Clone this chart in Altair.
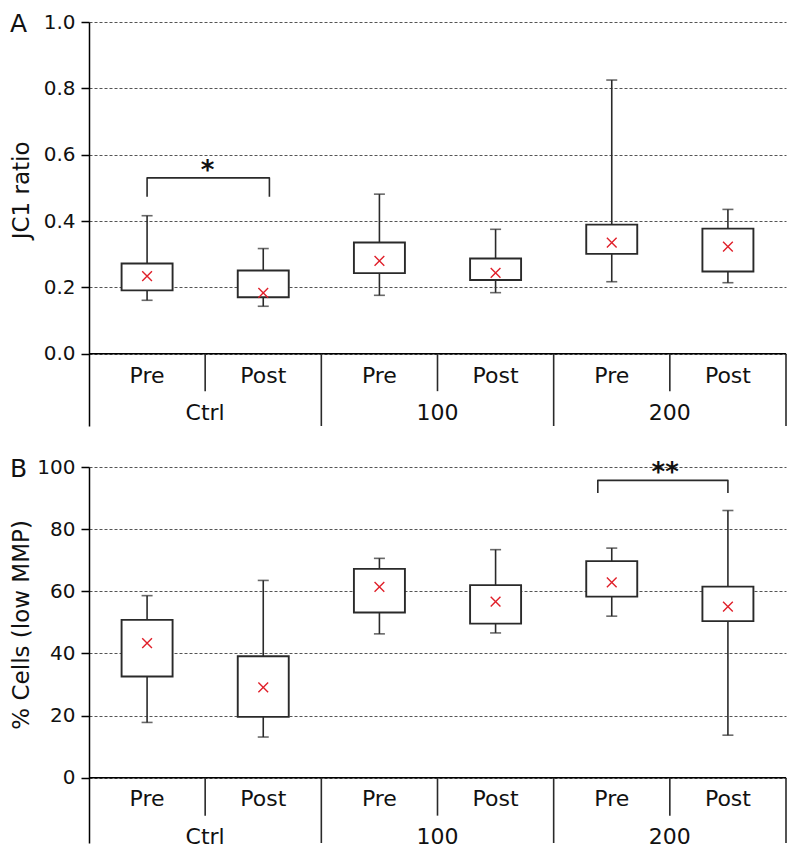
import altair as alt
import pandas as pd

# ---- categories ----
groups = ["Ctrl", "Ctrl", "100", "100", "200", "200"]
phases = ["Pre", "Post", "Pre", "Post", "Pre", "Post"]
group_names = ["Ctrl", "100", "200"]

# ---- Panel A: JC1 ratio ----
a_wlo = [0.161, 0.143, 0.176, 0.184, 0.217, 0.214]
a_q1 = [0.191, 0.170, 0.243, 0.222, 0.301, 0.248]
a_q3 = [0.272, 0.251, 0.335, 0.287, 0.389, 0.377]
a_whi = [0.416, 0.317, 0.481, 0.375, 0.825, 0.435]
a_mean = [0.234, 0.183, 0.280, 0.244, 0.335, 0.323]
a_ticks = [0.0, 0.2, 0.4, 0.6, 0.8, 1.0]

# ---- Panel B: % Cells (low MMP) ----
b_wlo = [17.8, 13.1, 46.3, 46.6, 52.0, 13.7]
b_q1 = [32.6, 19.6, 53.2, 49.6, 58.3, 50.4]
b_q3 = [50.8, 39.1, 67.2, 62.0, 69.7, 61.5]
b_whi = [58.6, 63.5, 70.6, 73.4, 73.9, 86.0]
b_mean = [43.3, 29.1, 61.4, 56.7, 62.9, 55.1]
b_ticks = [0, 20, 40, 60, 80, 100]

# significance annotations: (from index, to index, label)
a_sig = (0, 1, "*")
b_sig = (4, 5, "**")

FONT = "DejaVu Sans"
LINE = "#2a2a2a"
RED = "#e0202a"
W = 697


def panel(letter, title, wlo, q1, q3, whi, mean, ticks, fmt, ymin, ymax, height,
          lab1_y, lab2_y, minor_end, sig, sig_top, sig_leg, sig_dx, star_x):
    n = len(groups)
    pos = [i + 0.5 for i in range(n)]
    df = pd.DataFrame({
        "pos": pos, "group": groups, "phase": phases,
        "wlo": wlo, "q1": q1, "q3": q3, "whi": whi, "mean": mean,
    })
    xs = alt.Scale(domain=[0, n], nice=False, zero=False, padding=0)
    ys = alt.Scale(domain=[ymin, ymax], nice=False, zero=False, padding=0)
    title_y = (ymax / (ymax - ymin)) * height / 2 + 2
    yaxis = alt.Axis(
        values=ticks, format=fmt, title=title, grid=True,
        gridDash=[3, 2], gridColor="#555555", gridWidth=1,
        tickSize=8, tickColor="#000000", tickWidth=1.5,
        domainColor="#000000", domainWidth=1.5,
        labelFontSize=20, labelFont=FONT, labelColor="#111111", labelPadding=6,
        titleFontSize=23, titleFont=FONT, titleFontWeight="normal",
        titleColor="#111111", titleX=-56, titleY=title_y)

    X = lambda f: alt.X(f, type="quantitative", scale=xs, axis=None)
    Y = lambda f: alt.Y(f, type="quantitative", scale=ys, axis=yaxis, title=title)

    whisk = alt.Chart(df).mark_rule(color=LINE, strokeWidth=1.6).encode(
        x=X("pos"), y=Y("wlo"), y2="whi:Q")
    box = alt.Chart(df).mark_bar(size=51, fill="white", stroke=LINE, strokeWidth=1.9).encode(
        x=X("pos"), y=Y("q1"), y2="q3:Q")
    cap_lo = alt.Chart(df).mark_tick(orient="horizontal", size=11, thickness=1.6, color=LINE).encode(
        x=X("pos"), y=Y("wlo"))
    cap_hi = alt.Chart(df).mark_tick(orient="horizontal", size=11, thickness=1.6, color=LINE).encode(
        x=X("pos"), y=Y("whi"))
    means = alt.Chart(df).mark_point(
        shape="M-1,-1L1,1M-1,1L1,-1", size=95, filled=False, color=RED, strokeWidth=1.4,
        opacity=1).encode(x=X("pos"), y=Y("mean"))

    # category table
    top_line = alt.Chart(pd.DataFrame({"a": [0], "b": [n]})).mark_rule(
        color="#000000", strokeWidth=1.6).encode(
        x=X("a"), x2="b", y=Y("z")).transform_calculate(z="0")
    minor_x = [2 * k + 1 for k in range(len(group_names))]
    major_x = [2 * k + 2 for k in range(len(group_names))]
    minor = alt.Chart(pd.DataFrame({"sx": minor_x})).mark_rule(
        color=LINE, strokeWidth=1.6).encode(
        x=X("sx"), y=Y("z"), y2="e:Q").transform_calculate(z="0", e=str(minor_end))
    major = alt.Chart(pd.DataFrame({"sx": major_x})).mark_rule(
        color=LINE, strokeWidth=1.6).encode(
        x=X("sx"), y=Y("z"), y2="e:Q").transform_calculate(z="0", e=str(ymin))
    lab1 = alt.Chart(df).mark_text(fontSize=22, font=FONT, color="#111111",
                                   baseline="middle", align="center").encode(
        x=X("pos"), y=Y("z"), text="phase:N").transform_calculate(z=str(lab1_y))
    gdf = pd.DataFrame({"g": group_names, "gx": [2 * k + 1 for k in range(len(group_names))]})
    lab2 = alt.Chart(gdf).mark_text(fontSize=22, font=FONT, color="#111111",
                                    baseline="middle", align="center").encode(
        x=X("gx"), y=Y("z"), text="g:N").transform_calculate(z=str(lab2_y))

    # significance bracket
    i0, i1, star = sig
    xl = pos[i0] + sig_dx[0]
    xr = pos[i1] + sig_dx[1]
    bdf = pd.DataFrame({"bx": [xl, xl, xr, xr], "by": [sig_leg, sig_top, sig_top, sig_leg],
                        "o": [0, 1, 2, 3]})
    bracket = alt.Chart(bdf).mark_line(color=LINE, strokeWidth=1.6, strokeJoin="round").encode(
        x=X("bx"), y=Y("by"), order="o:Q")
    sdf = pd.DataFrame({"sx": [star_x], "s": [star]})
    stars = alt.Chart(sdf).mark_text(fontSize=26, font=FONT, fontWeight="bold", color="#111111",
                                     baseline="alphabetic", align="center").encode(
        x=X("sx"), y=Y("z"), text="s:N"
    ).transform_calculate(z=str(sig_top - (ymax - ymin) * 0.002))

    letter_t = alt.Chart(pd.DataFrame({"t": [letter]})).mark_text(
        fontSize=25, font=FONT, color="#111111", align="left", baseline="alphabetic").encode(
        x=alt.value(-79), y=alt.value(10), text="t:N")

    return alt.layer(whisk, top_line, minor, major, box, cap_lo, cap_hi, means,
                     lab1, lab2, bracket, stars, letter_t).properties(width=W, height=height)


pa = panel("A", "JC1 ratio", a_wlo, a_q1, a_q3, a_whi, a_mean, a_ticks, ".1f",
           -0.218, 1.0, 404, -0.066, -0.179, -0.113,
           a_sig, 0.530, 0.473, (0.0, 0.053), 1.02)
pb = panel("B", "% Cells (low MMP)", b_wlo, b_q1, b_q3, b_whi, b_mean, b_ticks, "d",
           -21.0, 100, 376, -7.0, -19.0, -12.2,
           b_sig, 95.7, 91.6, (-0.12, 0.0), 4.96)

chart = alt.vconcat(pa, pb, spacing=30).properties(
    padding={"left": 2, "top": 4, "right": 0, "bottom": 0}).configure(
    font=FONT).configure_view(strokeWidth=0)

chart.save("out.html", embed_options={"renderer": "svg", "actions": False})
